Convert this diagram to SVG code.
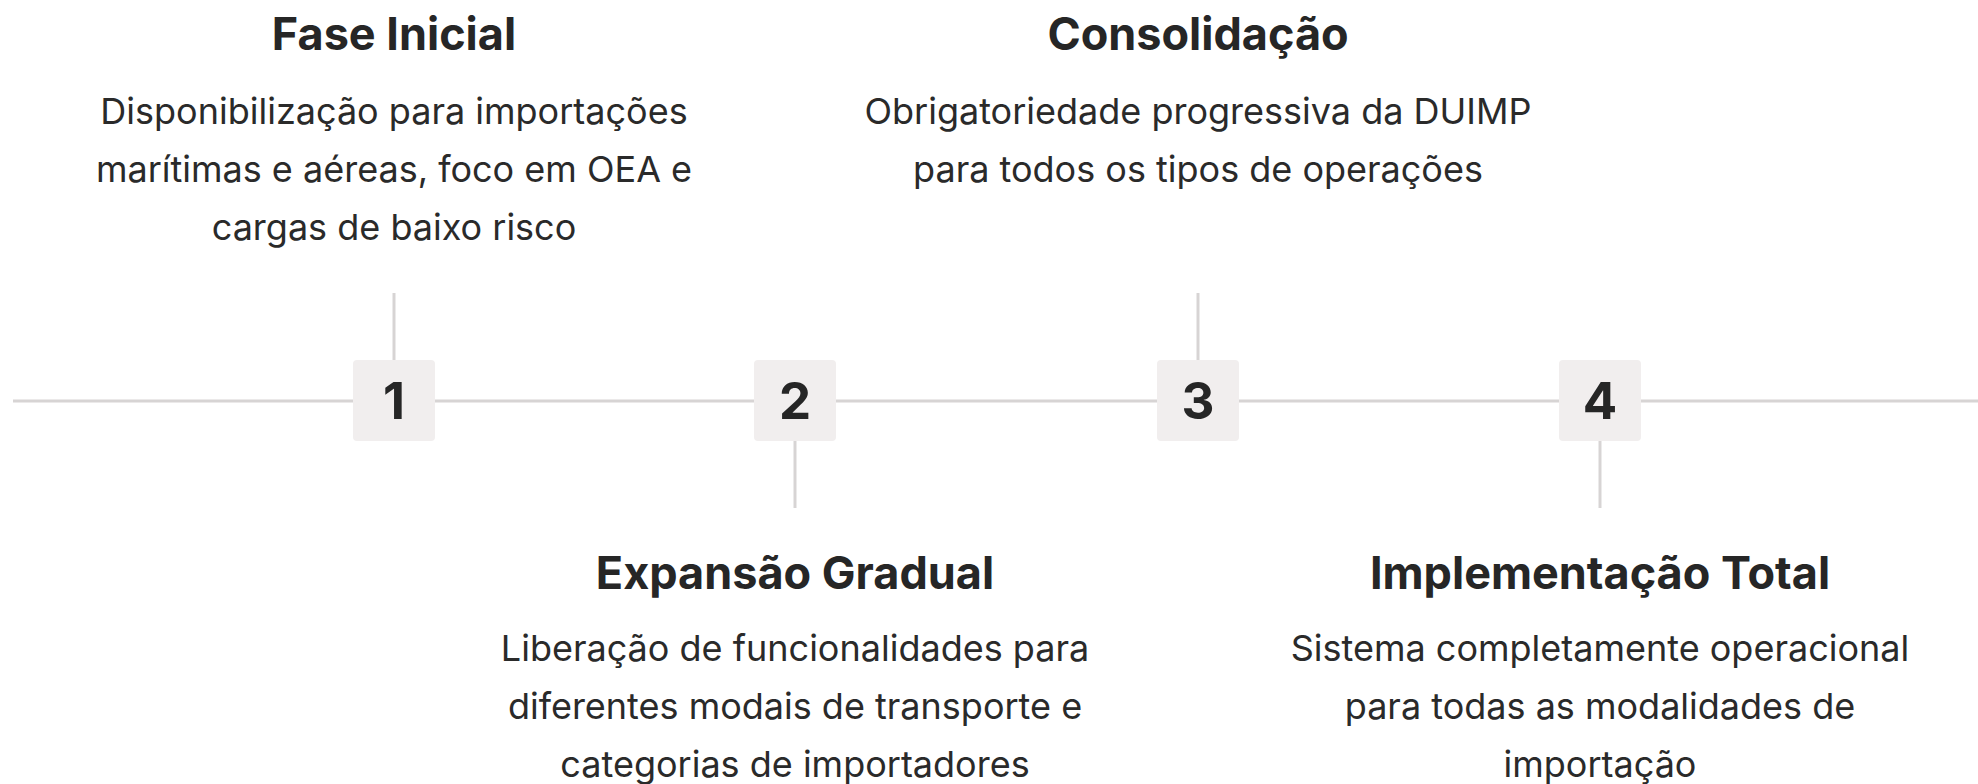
<svg xmlns="http://www.w3.org/2000/svg" width="1978" height="784" viewBox="0 0 1978 784">
<style>
.bg{fill:#ffffff}
.line{stroke:#d7d4d4;stroke-width:3;fill:none}
.box{fill:#f1eeee}
.num{font-family:Inter,"Noto Sans",sans-serif;font-weight:700;font-size:51px;fill:#262626;text-anchor:middle}
.title{font-family:Inter,"Noto Sans",sans-serif;font-weight:700;font-size:45px;fill:#262626;text-anchor:middle}
.desc{font-family:Inter,"Noto Sans",sans-serif;font-weight:400;font-size:36px;fill:#2a2a2a;text-anchor:middle}
</style>
<rect class="bg" x="0" y="0" width="1978" height="784"/>
<g id="connectors">
<line class="line" x1="13" y1="401" x2="1978" y2="401"/>
<line class="line" x1="394" y1="293" x2="394" y2="361"/>
<line class="line" x1="795" y1="440" x2="795" y2="508"/>
<line class="line" x1="1198" y1="293" x2="1198" y2="361"/>
<line class="line" x1="1600" y1="440" x2="1600" y2="508"/>
</g>
<g id="node1">
<rect class="box" x="353" y="360" width="82" height="81" rx="4"/>
<text class="num" x="394" y="419">1</text>
<text class="title" x="394" y="50">Fase Inicial</text>
<text class="desc" x="394" y="124">Disponibilização para importações</text>
<text class="desc" x="394" y="182">marítimas e aéreas, foco em OEA e</text>
<text class="desc" x="394" y="240">cargas de baixo risco</text>
</g>
<g id="node2">
<rect class="box" x="754" y="360" width="82" height="81" rx="4"/>
<text class="num" x="795" y="419">2</text>
<text class="title" x="795" y="589">Expansão Gradual</text>
<text class="desc" x="795" y="661">Liberação de funcionalidades para</text>
<text class="desc" x="795" y="719">diferentes modais de transporte e</text>
<text class="desc" x="795" y="777">categorias de importadores</text>
</g>
<g id="node3">
<rect class="box" x="1157" y="360" width="82" height="81" rx="4"/>
<text class="num" x="1198" y="419">3</text>
<text class="title" x="1198" y="50">Consolidação</text>
<text class="desc" x="1198" y="124">Obrigatoriedade progressiva da DUIMP</text>
<text class="desc" x="1198" y="182">para todos os tipos de operações</text>
</g>
<g id="node4">
<rect class="box" x="1559" y="360" width="82" height="81" rx="4"/>
<text class="num" x="1600" y="419">4</text>
<text class="title" x="1600" y="589">Implementação Total</text>
<text class="desc" x="1600" y="661">Sistema completamente operacional</text>
<text class="desc" x="1600" y="719">para todas as modalidades de</text>
<text class="desc" x="1600" y="777">importação</text>
</g>
</svg>
